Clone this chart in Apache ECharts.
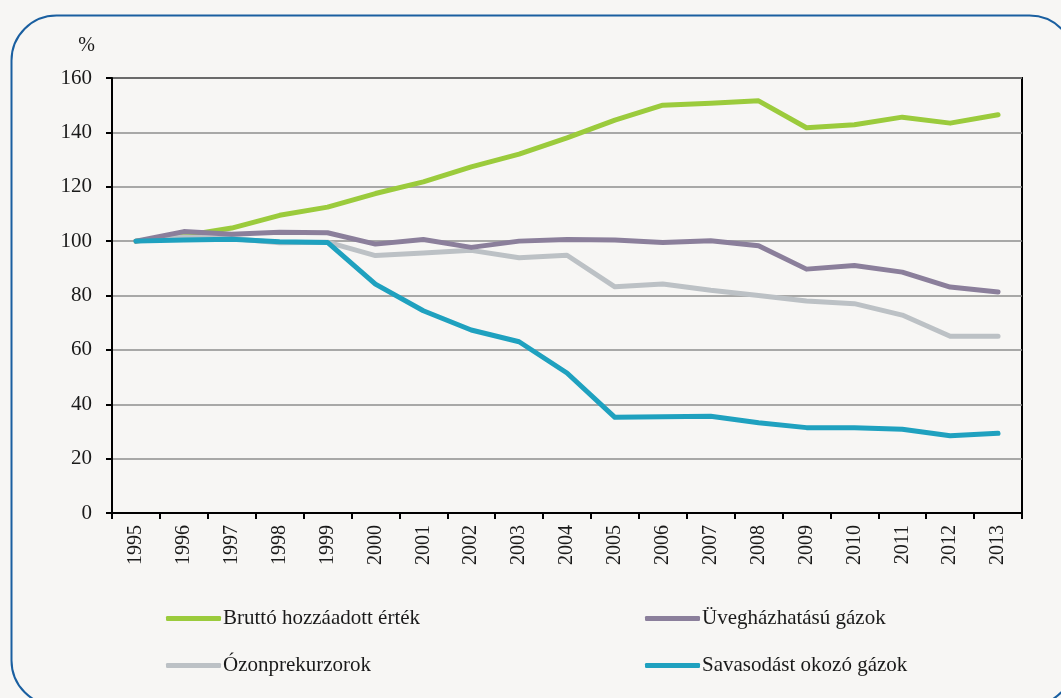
<!DOCTYPE html>
<html>
<head>
<meta charset="utf-8">
<script src="https://cdn.jsdelivr.net/npm/echarts@6/dist/echarts.min.js"></script>
<style>
html,body{margin:0;padding:0;background:#f7f6f4;}
#c{width:1061px;height:698px;}
</style>
</head>
<body>
<div id="c"></div>
<script>
const years = ['1995','1996','1997','1998','1999','2000','2001','2002','2003','2004','2005','2006','2007','2008','2009','2010','2011','2012','2013'];
const bruttoName = 'Bruttó hozzáadott érték';
const uvegName = 'Üvegházhatású gázok';
const ozonName = 'Ózonprekurzorok';
const savasName = 'Savasodást okozó gázok';
const brutto = [100, 102, 104.8, 109.5, 112.5, 117.5, 121.8, 127.3, 132, 138, 144.5, 150, 150.7, 151.6, 141.7, 142.8, 145.6, 143.4, 146.5];
const uveg = [100, 103.5, 102.5, 103.3, 103.1, 98.9, 100.6, 97.7, 100, 100.6, 100.4, 99.5, 100.1, 98.3, 89.7, 91, 88.6, 83.1, 81.3];
const ozon = [100, 101.5, 101, 99.4, 99.6, 94.7, 95.6, 96.6, 93.9, 94.8, 83.2, 84.2, 81.9, 80, 78, 77, 72.8, 65, 65];
const savas = [100, 100.4, 100.7, 99.8, 99.5, 84.2, 74.4, 67.3, 63, 51.5, 35.2, 35.4, 35.6, 33.2, 31.4, 31.4, 30.8, 28.4, 29.3];
const yTicksMin = 0, yTicksMax = 160, yStep = 20;

const FONT = "'Liberation Serif', 'DejaVu Serif', serif";
const colors = {b:'#9bcb3c', u:'#8b7f9b', o:'#bcc1c5', s:'#1fa1bf'};

function lg(name, left, top){
  return {
    show:true, left:left, top:top, orient:'horizontal', padding:0,
    data:[name], icon:'roundRect', itemWidth:55, itemHeight:5,
    textStyle:{fontFamily:FONT, fontSize:21, color:'#1a1a1a', padding:[0,0,0,-3]},
    selectedMode:false
  };
}
function ser(name, data, color){
  return {name:name, type:'line', data:data, symbol:'none', smooth:false,
    lineStyle:{width:5, color:color, cap:'round', join:'round'},
    itemStyle:{color:color}, emphasis:{disabled:true}, animation:false};
}

const chart = echarts.init(document.getElementById('c'), null, {renderer:'canvas'});
chart.setOption({
  backgroundColor:'#f7f6f4',
  animation:false,
  graphic:[{
    type:'rect', left:9, top:13, shape:{x:0,y:0,width:1063,height:690,r:45},
    style:{fill:'none', stroke:'#1a5fa0', lineWidth:2}, silent:true, z:-1
  }],
  grid:{left:112, top:78, right:39, bottom:185, show:true, borderColor:'#000', borderWidth:2, backgroundColor:'transparent'},
  legend:[
    lg(bruttoName, 166, 608),
    lg(uvegName, 645, 608),
    lg(ozonName, 166, 655),
    lg(savasName, 645, 655)
  ],
  xAxis:{
    type:'category', data:years, boundaryGap:true,
    axisLine:{lineStyle:{color:'#000', width:2}},
    axisTick:{show:true, inside:false, length:6, lineStyle:{color:'#000', width:2}},
    axisLabel:{rotate:90, margin:12, fontFamily:FONT, fontSize:20, color:'#1a1a1a'},
    splitLine:{show:false}
  },
  yAxis:{
    type:'value', min:yTicksMin, max:yTicksMax, interval:yStep,
    name:'%', nameLocation:'end', nameGap:22,
    nameTextStyle:{fontFamily:FONT, fontSize:20, color:'#1a1a1a', align:'right', padding:[0,17,0,0]},
    axisLine:{show:true, lineStyle:{color:'#000', width:2}},
    axisTick:{show:true, inside:false, length:6, lineStyle:{color:'#000', width:2}},
    axisLabel:{margin:20, fontFamily:FONT, fontSize:21, color:'#1a1a1a'},
    splitLine:{show:true, lineStyle:{color:'#8e8e8e', width:1.5}}
  },
  series:[
    ser(bruttoName, brutto, colors.b),
    ser(ozonName, ozon, colors.o),
    ser(uvegName, uveg, colors.u),
    ser(savasName, savas, colors.s)
  ]
});
</script>
</body>
</html>
